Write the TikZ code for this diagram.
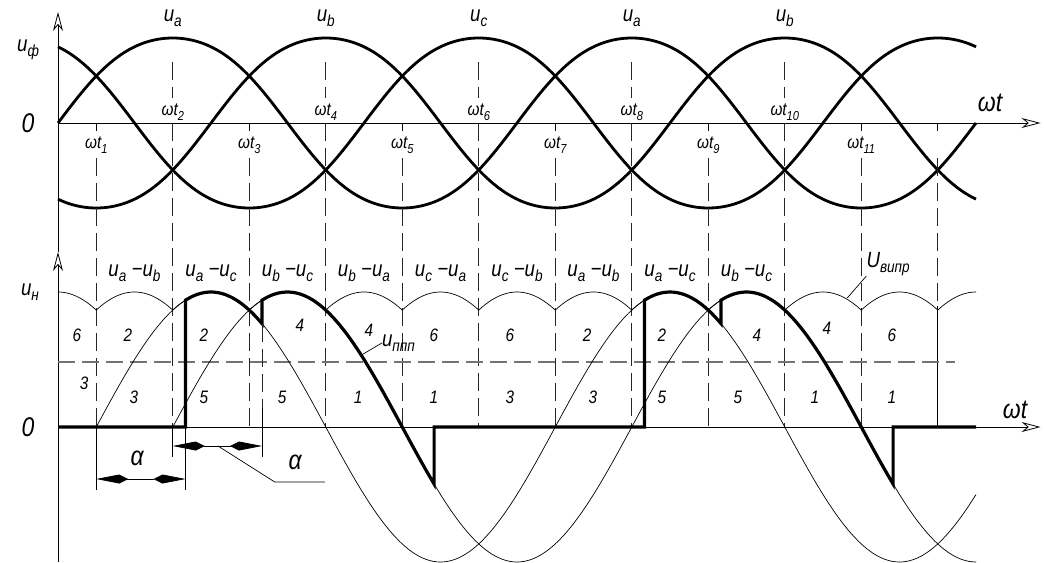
\documentclass[tikz,border=0pt]{standalone}
\usepackage{fontspec}
\setmainfont{Liberation Sans}[FakeStretch=0.85]
\usepackage{tikz}
\usetikzlibrary{arrows.meta}
\tikzset{
  ax/.style={line width=0.8pt,-{Stealth[open,length=19pt,width=10pt,inset=6pt]}},
  ph/.style={line width=2.8pt},
  ln/.style={line width=0.7pt},
  ld/.style={line width=3.2pt,line join=miter},
  gd/.style={black!85,line width=0.7pt,dash pattern=on 18pt off 7pt},
  hd/.style={black!55,line width=1.5pt,dash pattern=on 17pt off 7pt},
  dm/.style={line width=0.7pt,{Kite[length=32pt,width=9pt,inset=9pt]}-{Kite[length=32pt,width=9pt,inset=9pt]}},
  tx/.style={font=\fontsize{22}{24}\selectfont\itshape,inner sep=0pt},
  tb/.style={font=\fontsize{27}{28}\selectfont\itshape,inner sep=0pt},
  ts/.style={font=\fontsize{18}{20}\selectfont\itshape,inner sep=0pt},
  nr/.style={font=\fontsize{18}{20}\selectfont\itshape,inner sep=0pt}
}
\newcommand\sbx[2]{#1\raisebox{-0.45ex}{\fontsize{16}{16}\selectfont #2}}
\newcommand\sbs[1]{\raisebox{-0.5ex}{\fontsize{13}{13}\selectfont #1}}

\begin{document}
\begin{tikzpicture}[x=1.275pt,y=-1pt]
\useasboundingbox (-45.49,0) rectangle (773.33,562);
% axes
\draw[ax] (0,562) -- (0,252);
\draw[ax] (0,252) -- (0,12);
\draw[ax] (0,123) -- (770.6,123);
\draw[ax] (0,427) -- (770.6,427);
\node[tx] (uf) at (-23.5,50) {\sbx{u}{ф}};
\node[tb] (zt) at (-23.5,123) {0};
\node[tb] (wt) at (731,103) {ωt};
\node[tx] (un) at (-22,292) {\sbx{u}{н}};
\node[tb] (zb) at (-23.5,427) {0};
\node[tb] (wb) at (750.6,410) {ωt};
% phase voltages
\foreach \s in {0,120,240}
  \draw[ph] plot[domain=0:720,samples=181,smooth] (\x,{123-85*(1.035*sin(\x-\s)+0.035*sin(3*(\x-\s)))});
\foreach \c/\p [count=\k] in {90/a,210/b,330/c,450/a,570/b}
  \node[tx] (ph\k) at (\c,18) {\sbx{u}{\p}};
% switching instants
\foreach \i in {1,...,11}{
  \pgfmathsetmacro\t{30+60*(\i-1)}
  \ifodd\i
    \draw[ln] (\t,123) -- (\t,131);
    \node[ts] (w\i) at (\t,145) {ωt\sbs{\i}};
    \draw[gd] (\t,158) -- (\t,427);
  \else
    \draw[gd] (\t,62) -- (\t,98);
    \node[ts] (w\i) at (\t,112) {ωt\sbs{\i}};
    \draw[gd] (\t,123) -- (\t,427);
  \fi
}
\draw[ln] (690,123) -- (690,131);
\draw[gd] (690,158) -- (690,306);
\draw[ln] (690,306) -- (690,427);
\draw[hd] (0,362) -- (703.5,362);
% rectified voltage
\draw[ln] plot[domain=0:720,samples=361] (\x,{427-135*cos(mod(\x+30,60)-30)});
\draw[ln] plot[domain=30:720,samples=139,smooth] (\x,{427-135*sin(\x-30)});
\draw[ln] plot[domain=90:720,samples=127,smooth] (\x,{427-135*sin(\x-90)});
\draw[ld] (0,427) -- (100,427)
  -- plot[domain=100:160,samples=13,smooth] (\x,{427-135*sin(\x-30)})
  -- plot[domain=160:295,samples=28,smooth] (\x,{427-135*sin(\x-90)})
  -- (295,427) -- (460,427)
  -- plot[domain=460:520,samples=13,smooth] (\x,{427-135*sin(\x-30)})
  -- plot[domain=520:655,samples=28,smooth] (\x,{427-135*sin(\x-90)})
  -- (655,427) -- (720,427);
\foreach \c/\p/\q [count=\k] in {60/a/b,120/a/c,180/b/c,240/b/a,300/c/a,360/c/b,420/a/b,480/a/c,540/b/c}
  \node[tx] (s\k) at (\c,273) {\sbx{u}{\p} −\sbx{u}{\q}};
\foreach \c/\y/\n [count=\k] in {14.9/335/6,20.4/383/3,54.9/335/2,59.6/397/3,
    114.5/335/2,114.5/397/5,189.8/325/4,175.7/397/5,243.9/330/4,235.3/397/1,
    294.9/335/6,294.9/397/1,354.5/335/6,354.5/397/3,414.9/335/2,419.6/397/3,
    473.7/335/2,473.7/397/5,548.2/335/4,533.3/397/5,603.1/328/4,593.7/397/1,
    654.1/335/6,654.1/397/1}
  \node[nr] (n\k) at (\c,\y) {\n};
\node[tx,anchor=west] (uppp) at (254,343) {\sbx{u}{ппп}};
\coordinate (pp) at (238,355);
\draw[ln] (pp) -- (uppp.west);
\node[tx,anchor=south west] (uvp) at (634,276) {\sbx{U}{випр}};
\coordinate (vp) at (619,298);
\draw[ln] (vp) -- (uvp.south west);
% firing angle
\draw[ln] (30,427) -- (30,490);
\draw[ln] (100,427) -- (100,490);
\draw[ln] (90,427) -- (90,457);
\draw[gd] (160,324) -- (160,408);
\draw[ln] (160,408) -- (160,457);
\coordinate (a1) at (30,479);
\coordinate (a2) at (100,479);
\coordinate (b1) at (90,446);
\coordinate (b2) at (160,446);
\coordinate (bm) at (125.5,446);
\coordinate (bk) at (170,482);
\coordinate (be) at (209.4,482);
\draw[dm] (a1) -- (a2);
\draw[dm] (b1) -- (b2);
\draw[ln] (bm) -- (bk) -- (be);
\node[tb] (al1) at (62,458) {α};
\node[tb] (al2) at (186,462) {α};
\end{tikzpicture}
\end{document}
